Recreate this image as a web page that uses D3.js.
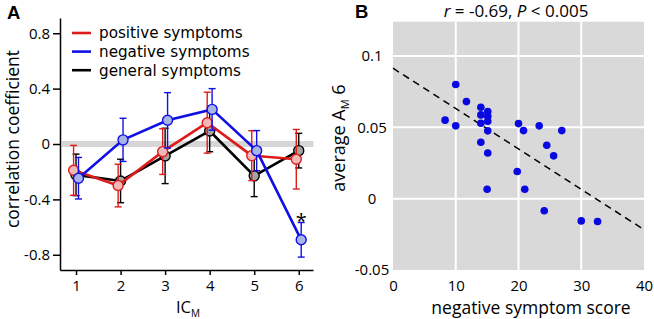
<!DOCTYPE html>
<html>
<head>
<meta charset="utf-8">
<script src="https://cdn.jsdelivr.net/npm/d3@7"></script>
<style>
  body { margin: 0; background: #fff; }
  svg { display: block; font-family: "Open Sans", sans-serif; }
</style>
</head>
<body>
<div id="chart"></div>
<script>
// panel A: correlation of each IC_M weight with the symptom scales
var icIndex = [1, 2, 3, 4, 5, 6];
var positiveR   = [-0.19, -0.30, -0.055, 0.154, -0.084, -0.11];
var positiveErr = [0.18, 0.154, 0.165, 0.22, 0.18, 0.215];
var negativeR   = [-0.247, 0.03, 0.171, 0.25, -0.048, -0.692];
var negativeErr = [0.15, 0.156, 0.2, 0.15, 0.145, 0.125];
var generalR    = [-0.223, -0.267, -0.086, 0.094, -0.23, -0.048];
var generalErr  = [0.15, 0.157, 0.2, 0.15, 0.15, 0.125];
var corrTicks = [0.8, 0.4, 0, -0.4, -0.8];
var corrTickLabels = ["0.8", "0.4", "0", "-0.4", "-0.8"];
var significantIC = [6];

// panel B: average A_M 6 against negative symptom score
var symptomScore = [8.3, 10, 10, 11.7, 14, 14, 14, 15.1, 15.1, 15.1, 15.1, 14, 15.1,
                    20, 20.8, 23.3, 26.9, 24.5, 25.6, 19.8, 15, 21, 24.1, 30, 32.6];
var averageAM6 = [0.055, 0.080, 0.051, 0.068, 0.064, 0.0587, 0.0528, 0.061, 0.0577, 0.0542, 0.0475, 0.0395, 0.032,
                  0.0526, 0.0477, 0.051, 0.0477, 0.0374, 0.030, 0.019, 0.0066, 0.0066, -0.0085, -0.0156, -0.016];
var fitScore = [0, 40];
var fitAM6 = [0.0914, -0.0217];
var scoreTicks = [0, 10, 20, 30, 40];
var am6Ticks = [-0.05, 0, 0.05, 0.1];
var am6TickLabels = ["-0.05", "0", "0.05", "0.1"];

var w = 654, h = 319;

var svg = d3.select("#chart").append("svg")
      .attr("width", w)
      .attr("height", h);

// ---------- panel A ----------
var series = [
  {name: "general symptoms",  r: generalR,  err: generalErr,  color: "#000000", fill: "#a3a3a3", dx: 0},
  {name: "positive symptoms", r: positiveR, err: positiveErr, color: "#dd1c1c", fill: "#f2b8b8", dx: -0.055},
  {name: "negative symptoms", r: negativeR, err: negativeErr, color: "#1010e6", fill: "#a8b4e6", dx: 0.055}
];
var legendOrder = [1, 2, 0];

var xA = d3.scaleLinear().domain([0.64, 6.32]).range([60, 313]),
    yA = d3.scaleLinear().domain([-0.91, 0.91]).range([270, 18]);

var a = svg.append("g");

// grey zero band
a.append("rect")
  .attr("x", xA(0.68))
  .attr("width", xA(6.33) - xA(0.68))
  .attr("y", yA(0) - 3)
  .attr("height", 6)
  .attr("fill", "#d6d6d6");

var axA = a.append("g")
      .attr("transform", "translate(" + xA.range()[0] + ",0)")
      .call(d3.axisLeft(yA).tickValues(corrTicks)
            .tickFormat((d, i) => corrTickLabels[i])
            .tickSize(7).tickPadding(3).tickSizeOuter(0));
var axB = a.append("g")
      .attr("transform", "translate(0," + yA.range()[0] + ")")
      .call(d3.axisBottom(xA).tickValues(icIndex).tickFormat(d3.format("d"))
            .tickSize(5).tickPadding(5).tickSizeOuter(0));
[axA, axB].forEach((ax) => {
  ax.attr("font-family", "Open Sans").attr("font-size", 15);
  ax.selectAll("path, line").attr("stroke-width", 1.5);
});

var line = d3.line();

series.forEach((s) => {
  var g = a.append("g");
  var pts = icIndex.map((c, i) => ({x: c + s.dx, r: s.r[i], e: s.err[i]}));

  // error bars
  var eb = g.selectAll("g.err").data(pts).enter().append("g")
        .attr("stroke", s.color).attr("stroke-width", 1.4);
  eb.append("line")
    .attr("x1", (d) => xA(d.x)).attr("x2", (d) => xA(d.x))
    .attr("y1", (d) => yA(d.r + d.e)).attr("y2", (d) => yA(d.r - d.e));
  eb.append("line")
    .attr("x1", (d) => xA(d.x) - 3.5).attr("x2", (d) => xA(d.x) + 3.5)
    .attr("y1", (d) => yA(d.r + d.e)).attr("y2", (d) => yA(d.r + d.e));
  eb.append("line")
    .attr("x1", (d) => xA(d.x) - 3.5).attr("x2", (d) => xA(d.x) + 3.5)
    .attr("y1", (d) => yA(d.r - d.e)).attr("y2", (d) => yA(d.r - d.e));

  g.append("path")
    .attr("d", line(pts.map((d) => [xA(d.x), yA(d.r)])))
    .attr("fill", "none")
    .attr("stroke", s.color)
    .attr("stroke-width", 2.6);

  g.selectAll("circle").data(pts).enter().append("circle")
    .attr("cx", (d) => xA(d.x))
    .attr("cy", (d) => yA(d.r))
    .attr("r", 5)
    .attr("fill", s.fill)
    .attr("stroke", s.color)
    .attr("stroke-width", 1.4);
});

// significance mark on negative symptoms
var neg = series[2];
a.selectAll("text.sig").data(significantIC).enter().append("text")
  .attr("x", (d) => xA(d + neg.dx))
  .attr("y", (d) => yA(neg.r[d - 1] + neg.err[d - 1]) + 5)
  .attr("text-anchor", "middle")
  .attr("font-size", 20)
  .text("*");

// legend (DejaVu keeps the line box inside the row pitch)
var leg = a.append("g").attr("transform", "translate(72,33)");
legendOrder.forEach((k, i) => {
  var s = series[k];
  leg.append("line")
    .attr("x1", 0).attr("x2", 19)
    .attr("y1", i * 18.6).attr("y2", i * 18.6)
    .attr("stroke", s.color).attr("stroke-width", 2.6);
  leg.append("text")
    .attr("x", 27).attr("y", i * 18.6)
    .attr("dy", "0.36em")
    .attr("font-family", "DejaVu Sans")
    .attr("font-size", 15.2)
    .text(s.name);
});

a.append("text")
  .attr("transform", "translate(19,139)rotate(-90)")
  .attr("text-anchor", "middle")
  .attr("font-size", 17.5)
  .text("correlation coefficient");

var icLabel = a.append("text")
  .attr("x", 188).attr("y", 313)
  .attr("text-anchor", "middle")
  .attr("font-size", 16.5);
icLabel.append("tspan").text("IC");
icLabel.append("tspan").attr("dy", 3.5).attr("font-size", 10).text("M");

a.append("text")
  .attr("x", 7).attr("y", 18.5)
  .attr("font-family", "Liberation Sans, Arial, sans-serif")
  .attr("font-weight", "bold")
  .attr("font-size", 18.5)
  .text("A");

// ---------- panel B ----------
var xB = d3.scaleLinear().domain([0, 40]).range([393, 644]),
    yB = d3.scaleLinear().domain([-0.05, 0.124]).range([270, 21.7]);

var b = svg.append("g");

b.append("rect")
  .attr("x", xB(0)).attr("y", yB(0.124))
  .attr("width", xB(40) - xB(0))
  .attr("height", yB(-0.05) - yB(0.124))
  .attr("fill", "#d9d9d9");

b.selectAll("line.vgrid").data(scoreTicks.slice(1, -1)).enter().append("line")
  .attr("x1", (d) => xB(d)).attr("x2", (d) => xB(d))
  .attr("y1", yB.range()[1]).attr("y2", yB.range()[0])
  .attr("stroke", "#fff").attr("stroke-width", 2);
b.selectAll("line.hgrid").data(am6Ticks.slice(1)).enter().append("line")
  .attr("x1", xB.range()[0]).attr("x2", xB.range()[1])
  .attr("y1", (d) => yB(d)).attr("y2", (d) => yB(d))
  .attr("stroke", "#fff").attr("stroke-width", 2);

var bxAxis = b.append("g")
      .attr("transform", "translate(0," + yB.range()[0] + ")")
      .call(d3.axisBottom(xB).tickValues(scoreTicks).tickSize(0).tickPadding(10));
var byAxis = b.append("g")
      .attr("transform", "translate(" + xB.range()[0] + ",0)")
      .call(d3.axisLeft(yB).tickValues(am6Ticks)
            .tickFormat((d, i) => am6TickLabels[i]).tickSize(0));
[bxAxis, byAxis].forEach((ax) => {
  ax.attr("font-family", "Open Sans").attr("font-size", 15);
  ax.select(".domain").remove();
});
byAxis.selectAll("text").attr("text-anchor", "middle").attr("x", -21);

b.append("path")
  .attr("d", line(fitScore.map((d, i) => [xB(d), yB(fitAM6[i])])))
  .attr("fill", "none")
  .attr("stroke", "#000")
  .attr("stroke-width", 1.5)
  .attr("stroke-dasharray", "7,5");

b.selectAll("circle").data(symptomScore).enter().append("circle")
  .attr("cx", (d) => xB(d))
  .attr("cy", (d, i) => yB(averageAM6[i]))
  .attr("r", 3.8)
  .attr("fill", "#0808e0");

var title = b.append("text")
  .attr("x", 516).attr("y", 16.5)
  .attr("text-anchor", "middle")
  .attr("font-size", 17);
title.append("tspan").attr("font-style", "italic").text("r");
title.append("tspan").text(" = -0.69, ");
title.append("tspan").attr("font-style", "italic").text("P");
title.append("tspan").text(" < 0.005");

var amLabel = b.append("text")
  .attr("transform", "translate(345,138)rotate(-90)")
  .attr("text-anchor", "middle")
  .attr("font-size", 18);
amLabel.append("tspan").text("average A");
amLabel.append("tspan").attr("dy", 4).attr("font-size", 11).text("M");
amLabel.append("tspan").attr("dy", -4).text(" 6");

b.append("text")
  .attr("x", 531).attr("y", 314)
  .attr("text-anchor", "middle")
  .attr("font-size", 17.5)
  .text("negative symptom score");

b.append("text")
  .attr("x", 355).attr("y", 17.5)
  .attr("font-family", "Liberation Sans, Arial, sans-serif")
  .attr("font-weight", "bold")
  .attr("font-size", 18.5)
  .text("B");
</script>
</body>
</html>
